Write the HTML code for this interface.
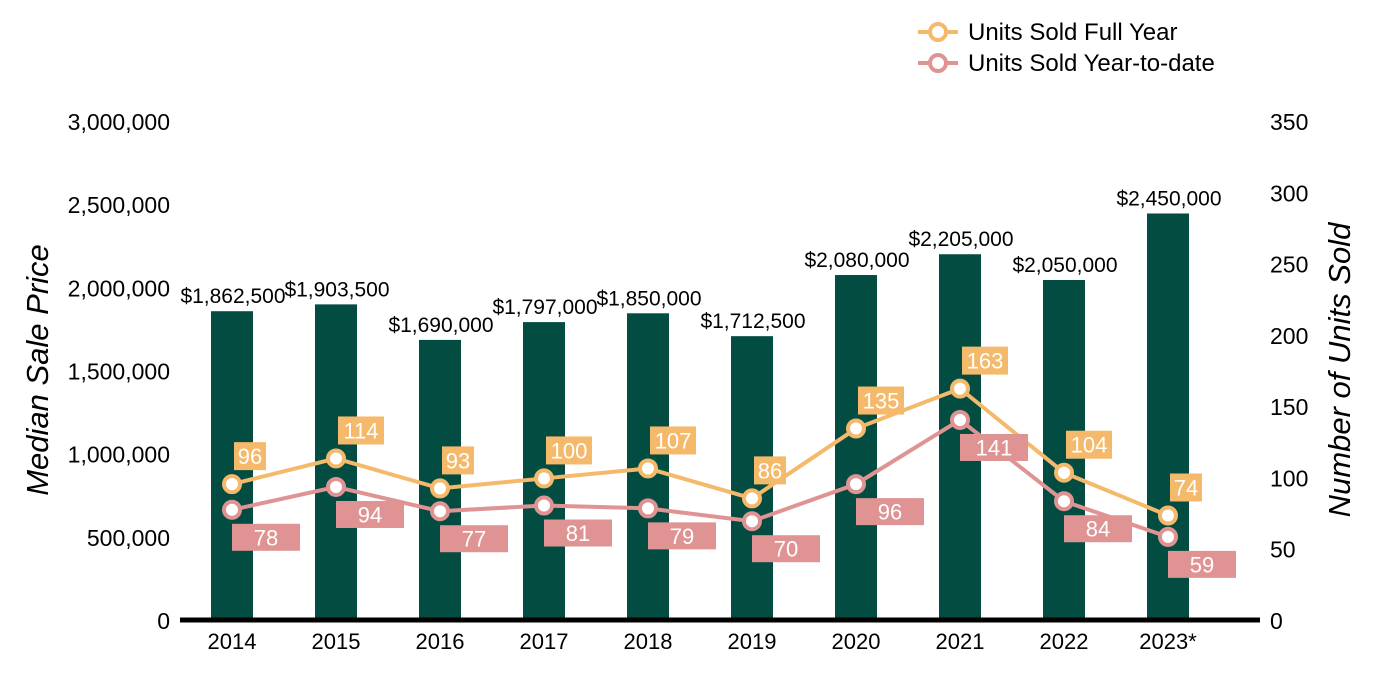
<!DOCTYPE html>
<html><head><meta charset="utf-8"><style>
body{margin:0;background:#fff;}
svg{display:block;font-family:"Liberation Sans",Arial,sans-serif;}
</style></head><body>
<svg id="chart" width="1400" height="700"></svg>
<script>
const years=["2014","2015","2016","2017","2018","2019","2020","2021","2022","2023*"];
const prices=[1862500,1903500,1690000,1797000,1850000,1712500,2080000,2205000,2050000,2450000];
const priceLabels=["$1,862,500","$1,903,500","$1,690,000","$1,797,000","$1,850,000","$1,712,500","$2,080,000","$2,205,000","$2,050,000","$2,450,000"];
const fullYear=[96,114,93,100,107,86,135,163,104,74];
const ytd=[78,94,77,81,79,70,96,141,84,59];
const leftTicks=[0,500000,1000000,1500000,2000000,2500000,3000000];
const rightTicks=[0,50,100,150,200,250,300,350];

const NS="http://www.w3.org/2000/svg";
const svg=document.getElementById('chart');
const y0=621,yTop=122;
const yL=v=>y0-v/3000000*(y0-yTop);
const yR=v=>y0-v/350*(y0-yTop);
const xC=i=>232+i*104;
function el(tag,attrs,parent){const e=document.createElementNS(NS,tag);for(const k in attrs)e.setAttribute(k,attrs[k]);(parent||svg).appendChild(e);return e;}
function txt(s,attrs){const t=el('text',attrs);t.textContent=s;return t;}

leftTicks.forEach(v=>{
  const t=txt(v.toLocaleString('en-US'),{x:170,y:yL(v)+8,'text-anchor':'end','font-size':23,fill:'#000'});
  
  
});
rightTicks.forEach(v=>{
  const t=txt(String(v),{x:1270,y:yR(v)+8,'font-size':23,fill:'#000'});
  
  
});
let t1=txt("Median Sale Price",{x:0,y:0,transform:'translate(48,370) rotate(-90)','text-anchor':'middle','font-size':31,'font-style':'italic',fill:'#000'});


let t2=txt("Number of Units Sold",{x:0,y:0,transform:'translate(1350,370) rotate(-90)','text-anchor':'middle','font-size':31,'font-style':'italic',fill:'#000'});



prices.forEach((p,i)=>{
  const r=el('rect',{x:xC(i)-21,y:yL(p),width:42,height:y0-yL(p),fill:'#034c41'});
  
  
  const t=txt(priceLabels[i],{x:xC(i)+1,y:yL(p)-8,'text-anchor':'middle','font-size':21,fill:'#000'});
  
  
  const yl=txt(years[i],{x:xC(i),y:649,'text-anchor':'middle','font-size':22,fill:'#000'});
  
  
});
const base=el('line',{x1:180,x2:1260,y1:620,y2:620,stroke:'#000','stroke-width':5});



function series(vals,color,name){
  const l=el('polyline',{points:vals.map((v,i)=>xC(i)+','+yR(v)).join(' '),fill:'none',stroke:color,'stroke-width':4});
  
  
}
function markers(vals,color,name,above){
  vals.forEach((v,i)=>{
    const c=el('circle',{cx:xC(i),cy:yR(v),r:8,fill:'#fff',stroke:color,'stroke-width':4});
    
    
    const s=String(v);
    let bx,by,bw,bh;
    if(above){bw=s.length>2?46:32;bh=28;bx=xC(i)+2;by=yR(v)-42;}
    else{bw=68;bh=27;bx=xC(i);by=yR(v)+14;}
    const b=el('rect',{x:bx,y:by,width:bw,height:bh,fill:color});
    
    
    const t=txt(s,{x:bx+bw/2,y:by+bh/2+8,'text-anchor':'middle','font-size':22,fill:'#fff'});
    
    
  });
}
series(ytd,'#e09393','ytd');
series(fullYear,'#f5b96b','full-year');
markers(ytd,'#e09393','ytd',false);
markers(fullYear,'#f5b96b','full-year',true);

[["Units Sold Full Year",'#f5b96b',32],["Units Sold Year-to-date",'#e09393',63]].forEach(([lab,col,y])=>{
  const l=el('line',{x1:918,x2:958,y1:y,y2:y,stroke:col,'stroke-width':4});
  
  
  const c=el('circle',{cx:938,cy:y,r:8,fill:'#fff',stroke:col,'stroke-width':4});
  
  
  const t=txt(lab,{x:968,y:y+8,'font-size':24,fill:'#000'});
  
  
});
</script>
</body></html>
